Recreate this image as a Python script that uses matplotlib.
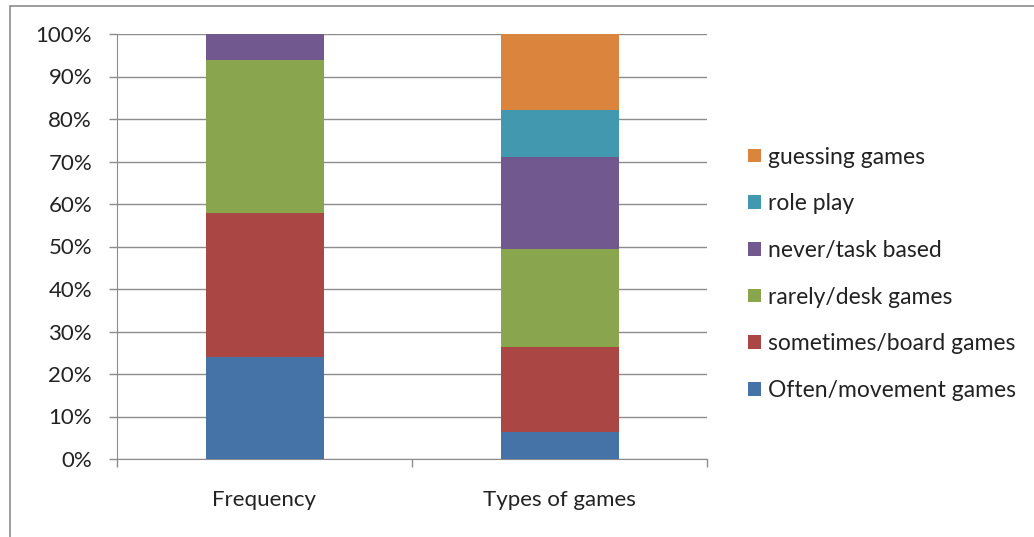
import numpy as np
import matplotlib.pyplot as plt
from matplotlib.patches import Rectangle

categories = ["Frequency", "Types of games"]
series_names = ["Often/movement games", "sometimes/board games", "rarely/desk games",
                "never/task based", "role play", "guessing games"]
# percent of each column
values = [
    [24.0, 6.3],     # Often/movement games
    [34.0, 20.0],    # sometimes/board games
    [36.0, 23.1],    # rarely/desk games
    [6.0, 21.7],     # never/task based
    [0.0, 11.1],     # role play
    [0.0, 17.8],     # guessing games
]
colors = ["#4572A7", "#AA4643", "#89A54E", "#71588F", "#4198AF", "#DB843D"]
yticks = [0, 10, 20, 30, 40, 50, 60, 70, 80, 90, 100]

plt.rcParams['font.family'] = ['Lato', 'DejaVu Sans']
fs = 16

fig = plt.figure(figsize=(10.34, 5.37), dpi=100)
ax = fig.add_axes([117 / 1034, 1 - 459 / 537, 590 / 1034, 425 / 537])

x = np.arange(len(categories))
bottom = np.zeros(len(categories))
handles = []
for name, vals, c in zip(series_names, values, colors):
    vals = np.array(vals)
    h = ax.bar(x, vals, 0.4, bottom=bottom, color=c, label=name, zorder=3)
    handles.append(h)
    bottom += vals

ax.set_xlim(-0.5, 1.5)
ax.set_ylim(0, 100)
ax.set_yticks(yticks)
ax.set_yticklabels([f"{t}%" for t in yticks], fontsize=fs, color="#222222")
ax.yaxis.grid(True, color="#8c8c8c", linewidth=1, zorder=0)

ax.set_xticks([-0.5, 0.5, 1.5])
ax.set_xticklabels([])
ax.set_xticks(x, minor=True)
ax.set_xticklabels(categories, minor=True, fontsize=fs, color="#222222")
ax.tick_params(axis='x', which='minor', length=0, pad=22)
ax.tick_params(axis='x', which='major', length=6, color="#8c8c8c", width=1)
ax.tick_params(axis='y', length=6, color="#8c8c8c", width=1, pad=12)

for side in ["top", "right"]:
    ax.spines[side].set_visible(False)
for side in ["left", "bottom"]:
    ax.spines[side].set_color("#8c8c8c")

leg = ax.legend(handles[::-1], series_names[::-1], loc="center left",
                bbox_to_anchor=(1.035, 0.436), frameon=False, fontsize=16.5,
                handlelength=0.55, handleheight=0.55, handletextpad=0.3,
                labelspacing=1.12)
for t in leg.get_texts():
    t.set_color("#222222")

fig.patches.append(Rectangle((10 / 1034, -0.1), 1.2, 1 - 6 / 537 + 0.1,
                             transform=fig.transFigure, fill=False,
                             edgecolor="#8c8c8c", linewidth=1.2))

fig.savefig("out.png", dpi=100)
